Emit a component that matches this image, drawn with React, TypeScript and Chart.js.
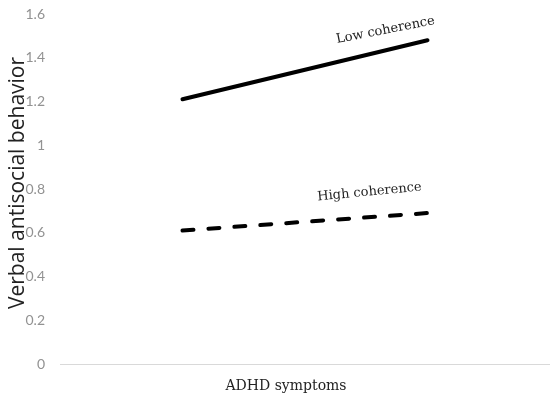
import React, { useEffect, useRef } from "react";
import { Chart, registerables } from "chart.js";

Chart.register(...registerables);

const categories = ["Low ADHD", "High ADHD"];
const lowCoherence = [1.21, 1.48];
const highCoherence = [0.61, 0.69];
const yTicks = [0, 0.2, 0.4, 0.6, 0.8, 1, 1.2, 1.4, 1.6];
const seriesLabels = ["Low coherence", "High coherence"];
const xTitle = "ADHD symptoms";
const yTitle = "Verbal antisocial behavior";

const SERIF = "'DejaVu Serif', 'Liberation Serif', serif";

const labelPlugin = {
  id: "seriesLabels",
  afterDatasetsDraw(chart: any) {
    const { ctx, scales, chartArea } = chart;
    const x = scales.x;
    const y = scales.y;
    const items = [
      { text: seriesLabels[0], v: lowCoherence[1], dx: -42, dy: -10, rot: -11 },
      { text: seriesLabels[1], v: highCoherence[1], dx: -58, dy: -21, rot: -5.5 },
    ];
    ctx.save();
    ctx.fillStyle = "#222";
    ctx.font = "13px " + SERIF;
    ctx.textAlign = "center";
    ctx.textBaseline = "middle";
    for (const it of items) {
      const px = x.getPixelForValue(1) + it.dx;
      const py = y.getPixelForValue(it.v) + it.dy;
      ctx.save();
      ctx.translate(px, py);
      ctx.rotate((it.rot * Math.PI) / 180);
      ctx.fillText(it.text, 0, 0);
      ctx.restore();
    }
    // x axis title
    ctx.font = "14px " + SERIF;
    ctx.fillText(xTitle, (chartArea.left + chartArea.right) / 2 - 19, chartArea.bottom + 22);
    // y axis title
    ctx.font = "21px 'Open Sans', sans-serif";
    ctx.textBaseline = "alphabetic";
    ctx.save();
    ctx.translate(24, (chartArea.top + chartArea.bottom) / 2 - 6);
    ctx.rotate(-Math.PI / 2);
    ctx.fillText(yTitle, 0, 0);
    ctx.restore();
    ctx.restore();
  },
};

export default function App() {
  const ref = useRef<HTMLCanvasElement>(null);
  useEffect(() => {
    document.body.style.margin = "0";
    const chart = new Chart(ref.current!, {
      type: "line",
      data: {
        labels: categories,
        datasets: [
          {
            label: seriesLabels[0],
            data: lowCoherence,
            borderColor: "#000",
            borderWidth: 4,
            pointRadius: 0,
            borderCapStyle: "round",
          },
          {
            label: seriesLabels[1],
            data: highCoherence,
            borderColor: "#000",
            borderWidth: 4,
            pointRadius: 0,
            borderDash: [11, 15],
            borderCapStyle: "round",
          },
        ],
      },
      options: {
        animation: false,
        responsive: false,
        layout: { padding: { top: 14, right: 0, left: 0, bottom: 0 } },
        plugins: { legend: { display: false }, tooltip: { enabled: false } },
        scales: {
          x: {
            offset: true,
            grid: { display: false },
            border: { display: true, color: "#d9d9d9", width: 1 },
            ticks: { display: false },
            title: { display: false },
            afterFit(scale: any) {
              scale.height = 46;
              scale.paddingLeft = 0;
              scale.paddingRight = 0;
            },
          },
          y: {
            min: 0,
            max: 1.6,
            afterBuildTicks(scale: any) {
              scale.ticks = yTicks.map((v) => ({ value: v }));
            },
            grid: { display: false },
            border: { display: false },
            ticks: {
              color: "#929292",
              font: { family: "Lato, sans-serif", size: 14 },
              padding: 7,
              callback: (v: any) => String(v),
            },
            title: { display: false },
            afterFit(scale: any) {
              scale.width = 60;
              scale.paddingTop = 0;
              scale.paddingBottom = 0;
            },
          },
        },
      },
      plugins: [labelPlugin],
    });
    return () => chart.destroy();
  }, []);
  return (
    <div style={{ width: 550, height: 410 }}>
      <canvas ref={ref} width={550} height={410} />
    </div>
  );
}
